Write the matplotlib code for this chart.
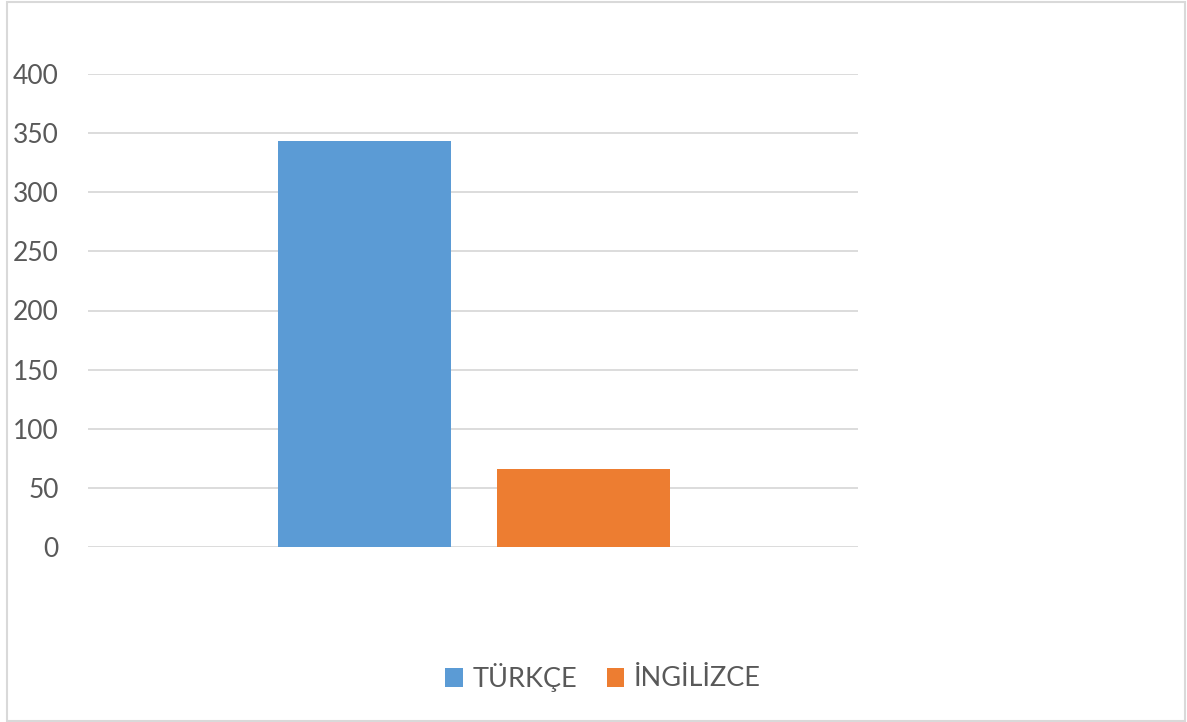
import matplotlib
matplotlib.use('Agg')
import matplotlib.pyplot as plt
from matplotlib.patches import Rectangle, Patch

# data
series = ['TÜRKÇE', 'İNGİLİZCE']
values = [343, 66]
colors = ['#5b9bd5', '#ed7d31']
y_ticks = [0, 50, 100, 150, 200, 250, 300, 350, 400]


def main():
    plt.rcParams['font.family'] = ['Lato', 'DejaVu Sans']
    fig = plt.figure(figsize=(11.87, 7.22), dpi=100)
    W, H = 1187, 722
    ax = fig.add_axes([88 / W, (H - 547) / H, (858 - 88) / W, (547 - 74) / H])

    centers = [0.359, 0.6435]
    width = 0.2247
    for xc, v, c in zip(centers, values, colors):
        ax.bar(xc, v, width=width, color=c, zorder=3)

    ax.set_xlim(0, 1)
    ax.set_ylim(0, 400)
    ax.set_yticks(y_ticks)
    ax.set_xticks([])
    ax.grid(axis='y', color='#d9d9d9', linewidth=1.3, zorder=0)
    for s in ax.spines.values():
        s.set_visible(False)
    ax.tick_params(axis='y', length=0, pad=21, labelsize=19, labelcolor='#595959')

    handles = [Patch(facecolor=c, label=s) for s, c in zip(series, colors)]
    fig.legend(handles=handles, loc='center', bbox_to_anchor=(603 / W, (H - 677) / H),
               ncol=2, frameon=False, fontsize=19.5, labelcolor='#595959',
               handlelength=0.65, handleheight=0.7, handletextpad=0.35, columnspacing=1.1)

    fig.patches.append(Rectangle((7 / W, 1 / H), (1185 - 7) / W, (720 - 1) / H,
                                 transform=fig.transFigure, fill=False,
                                 edgecolor='#d9d9d9', linewidth=1.5))
    fig.savefig('out.png', dpi=100)


if __name__ == '__main__':
    main()
